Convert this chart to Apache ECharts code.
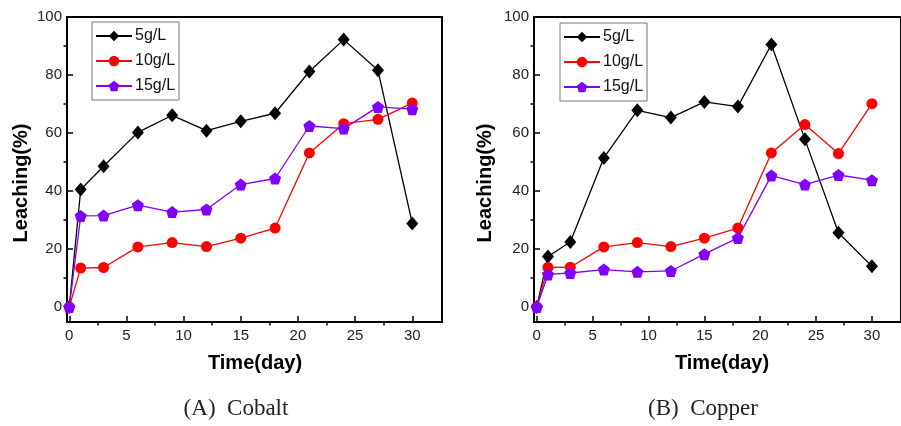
<!DOCTYPE html>
<html>
<head>
<meta charset="utf-8">
<script src="https://cdn.jsdelivr.net/npm/echarts@6/dist/echarts.min.js"></script>
<style>html,body{margin:0;padding:0;background:#fff}#c{width:901px;height:426px}</style>
</head>
<body>
<div id="c"></div>
<script>
var days = [0, 1, 3, 6, 9, 12, 15, 18, 21, 24, 27, 30];
var seriesNames = ['5g/L', '10g/L', '15g/L'];
var cobalt5 = [0, 40.5, 48.5, 60.2, 66.1, 60.8, 64.0, 66.8, 81.2, 92.2, 81.6, 28.8];
var cobalt10 = [0, 13.4, 13.6, 20.7, 22.2, 20.8, 23.7, 27.2, 53.1, 63.2, 64.7, 70.3];
var cobalt15 = [0, 31.4, 31.5, 35.1, 32.7, 33.6, 42.2, 44.3, 62.4, 61.5, 69.0, 68.2];
var copper5 = [0, 17.4, 22.4, 51.4, 67.8, 65.3, 70.7, 69.1, 90.5, 57.8, 25.6, 14.0];
var copper10 = [0, 13.6, 13.7, 20.7, 22.2, 20.8, 23.7, 27.2, 53.1, 62.9, 52.9, 70.1];
var copper15 = [0, 11.2, 11.7, 12.9, 12.1, 12.4, 18.2, 23.8, 45.3, 42.2, 45.5, 43.7];
var xTicks = [0, 5, 10, 15, 20, 25, 30];
var xMinorTicks = [2.5, 7.5, 12.5, 17.5, 22.5, 27.5];
var yTicks = [0, 20, 40, 60, 80, 100];
var yMinorTicks = [10, 30, 50, 70, 90];
var xTitle = 'Time(day)';
var yTitle = 'Leaching(%)';
var captions = ['(A)  Cobalt', '(B)  Copper'];

var colors = ['#000000', '#ff0000', '#8000ff'];
var pentagon = 'path://M0,-1 L0.951,-0.309 L0.588,0.809 L-0.588,0.809 L-0.951,-0.309 Z';
var symbols = ['diamond', 'circle', pentagon];
var symbolSizes = [[12, 14], 11, 12];

function pairs(v) { return days.map(function (d, i) { return [d, v[i]]; }); }

var chart = echarts.init(document.getElementById('c'));
var grids = [
  { left: 67, top: 17, width: 375, height: 305, xmin: -0.2 },
  { left: 534, top: 17, width: 376, height: 305, xmin: -0.25 }
];
var xAxes = [], yAxes = [], gridOpts = [];
var tickLine = { color: '#000', width: 1.5 };
function axLine(zeroIdx) {
  return { show: true, onZero: true, onZeroAxisIndex: zeroIdx, lineStyle: { color: '#000', width: 2 } };
}
grids.forEach(function (g, gi) {
  var dummyIdx = gi * 3 + 2;
  gridOpts.push({ left: g.left, top: g.top, width: g.width, height: g.height, show: true,
    borderColor: '#000', borderWidth: 2, backgroundColor: 'transparent' });
  xAxes.push({ type: 'value', gridIndex: gi, min: g.xmin, max: 32.6,
    axisLine: axLine(dummyIdx), splitLine: { show: false },
    axisTick: { show: true, inside: true, length: 6, customValues: xTicks, lineStyle: tickLine },
    axisLabel: { customValues: xTicks, margin: 6, fontFamily: 'Liberation Sans', fontSize: 15, color: '#222' } });
  xAxes.push({ type: 'value', gridIndex: gi, min: g.xmin, max: 32.6,
    axisLine: axLine(dummyIdx), splitLine: { show: false },
    axisTick: { show: true, inside: true, length: 3.5, customValues: xMinorTicks, lineStyle: tickLine },
    axisLabel: { show: false, customValues: xMinorTicks } });
  xAxes.push({ type: 'value', gridIndex: gi, min: 0, max: 1, show: false });
  yAxes.push({ type: 'value', gridIndex: gi, min: -5.2, max: 100,
    axisLine: axLine(dummyIdx), splitLine: { show: false },
    axisTick: { show: true, inside: true, length: 6, customValues: yTicks, lineStyle: tickLine },
    axisLabel: { customValues: yTicks, margin: 5, fontFamily: 'Liberation Sans', fontSize: 15, color: '#222' } });
  yAxes.push({ type: 'value', gridIndex: gi, min: -5.2, max: 100,
    axisLine: axLine(dummyIdx), splitLine: { show: false },
    axisTick: { show: true, inside: true, length: 3.5, customValues: yMinorTicks, lineStyle: tickLine },
    axisLabel: { show: false, customValues: yMinorTicks } });
  yAxes.push({ type: 'value', gridIndex: gi, min: 0, max: 1, show: false });
});

var dataSets = [[cobalt5, cobalt10, cobalt15], [copper5, copper10, copper15]];
var series = [];
dataSets.forEach(function (set, gi) {
  set.forEach(function (vals, si) {
    series.push({
      name: seriesNames[si], type: 'line', xAxisIndex: gi * 3, yAxisIndex: gi * 3,
      data: pairs(vals), symbol: symbols[si], symbolSize: symbolSizes[si],
      lineStyle: { color: colors[si], width: 1.3 },
      itemStyle: { color: colors[si] }, animation: false
    });
  });
});

function legendAt(left, top) {
  return { left: left, top: top, orient: 'vertical', data: seriesNames,
    itemWidth: 36, itemHeight: 13, itemGap: 9, padding: [6, 4, 6, 3],
    borderColor: '#777', borderWidth: 1, selectedMode: false,
    textStyle: { fontFamily: 'Liberation Sans', fontSize: 16, color: '#111', padding: [0, 0, 0, -2] } };
}

var graphics = [];
[{ cx: 255, ly: 21, lyc: 183 }, { cx: 722, ly: 485, lyc: 183 }].forEach(function (p, i) {
  graphics.push({ type: 'text', x: p.cx, y: 363, style: { text: xTitle, font: 'bold 20px "Liberation Sans"',
    fill: '#000', textAlign: 'center', textVerticalAlign: 'middle' } });
  graphics.push({ type: 'text', x: p.ly, y: p.lyc, rotation: Math.PI / 2, style: { text: yTitle,
    font: 'bold 20px "Liberation Sans"', fill: '#000', textAlign: 'center', textVerticalAlign: 'middle' } });
});
graphics.push({ type: 'text', x: 236, y: 409, style: { text: captions[0], font: '23px "Liberation Serif"',
  fill: '#222', textAlign: 'center', textVerticalAlign: 'middle' } });
graphics.push({ type: 'text', x: 703, y: 409, style: { text: captions[1], font: '23px "Liberation Serif"',
  fill: '#222', textAlign: 'center', textVerticalAlign: 'middle' } });

chart.setOption({
  backgroundColor: '#fff',
  animation: false,
  grid: gridOpts,
  xAxis: xAxes,
  yAxis: yAxes,
  legend: [legendAt(92, 22), legendAt(560, 23)],
  series: series,
  graphic: graphics
});
</script>
</body>
</html>
